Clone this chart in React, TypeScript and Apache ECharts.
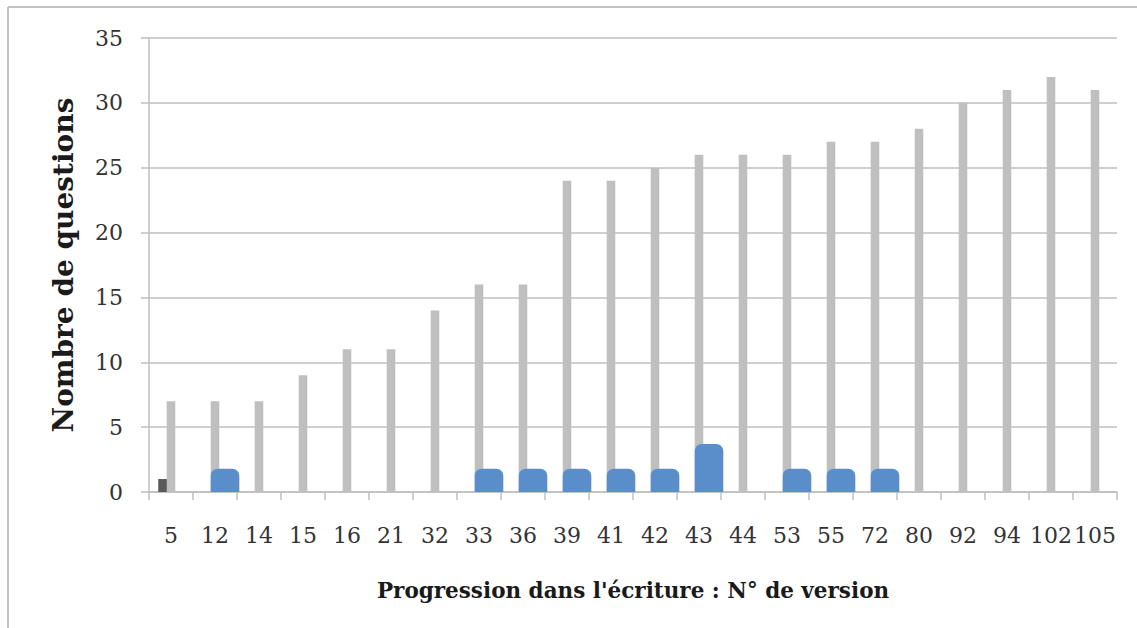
import React, { useEffect, useRef } from "react";
import * as echarts from "echarts";

// Version numbers along the writing progression
const versions = ["5", "12", "14", "15", "16", "21", "32", "33", "36", "39", "41", "42", "43", "44", "53", "55", "72", "80", "92", "94", "102", "105"];
// Number of questions per version
const questionCounts = [7, 7, 7, 9, 11, 11, 14, 16, 16, 24, 24, 25, 26, 26, 26, 27, 27, 28, 30, 31, 32, 31];
// Secondary series (blue rounded bars)
const blueValues: (number | null)[] = [null, 1.8, null, null, null, null, null, 1.8, 1.8, 1.8, 1.8, 1.8, 3.7, null, 1.8, 1.8, 1.8, null, null, null, null, null];
// Small dark series
const darkValues: (number | null)[] = [1, null, null, null, null, null, null, null, null, null, null, null, null, null, null, null, null, null, null, null, null, null];

const yTicks = { min: 0, max: 35, interval: 5 };

const GRAY = "#bfbfbf";
const BLUE = "#5a8ecb";
const DARK = "#5a5a5a";
const SERIF = "'DejaVu Serif', 'Liberation Serif', serif";

const toPoints = (vals: (number | null)[]) =>
  vals.map((v, i) => (v == null ? null : [i, v])).filter((d) => d !== null) as number[][];

// Bar drawn at a horizontal offset inside its category band (fractions of the band width)
const offsetBar = (leftFrac: number, widthFrac: number, color: string, radius: number) =>
  (params: any, api: any) => {
    const idx = api.value(0);
    const base = api.coord([idx, 0]);
    const top = api.coord([idx, api.value(1)]);
    const band = api.size([1, 0])[0];
    const x = base[0] + band * leftFrac;
    const w = band * widthFrac;
    const h = base[1] - top[1];
    return {
      type: "rect",
      shape: { x, y: top[1], width: w, height: h, r: [radius, radius, 0, 0] },
      style: { fill: color },
    };
  };

export default function App() {
  const ref = useRef<HTMLDivElement>(null);

  useEffect(() => {
    if (!ref.current) return;
    const chart = echarts.init(ref.current, null, { renderer: "svg" });
    chart.setOption({
      animation: false,
      backgroundColor: "#ffffff",
      grid: { left: 149, right: 20, top: 38, bottom: 136, containLabel: false },
      xAxis: {
        type: "category",
        data: versions,
        name: "Progression dans l'écriture : N° de version",
        nameLocation: "middle",
        nameGap: 87,
        nameTextStyle: { fontFamily: SERIF, fontWeight: "bold", fontSize: 21.5, color: "#1a1a1a" },
        axisLine: { show: true, lineStyle: { color: GRAY, width: 1.5 } },
        axisTick: { show: true, length: 8, interval: 0, lineStyle: { color: GRAY, width: 1.5 } },
        axisLabel: { interval: 0, margin: 32, fontFamily: SERIF, fontSize: 22, color: "#333333" },
        splitLine: { show: false },
      },
      yAxis: {
        type: "value",
        min: yTicks.min,
        max: yTicks.max,
        interval: yTicks.interval,
        name: "Nombre de questions",
        nameLocation: "middle",
        nameGap: 72,
        nameTextStyle: { fontFamily: SERIF, fontWeight: "bold", fontSize: 28, color: "#1a1a1a" },
        axisLine: { show: true, lineStyle: { color: GRAY, width: 1.5 } },
        axisTick: { show: true, length: 8, lineStyle: { color: GRAY, width: 1.5 } },
        axisLabel: { margin: 26, fontFamily: SERIF, fontSize: 22, color: "#333333" },
        splitLine: { show: true, lineStyle: { color: GRAY, width: 1.5 } },
      },
      series: [
        {
          type: "bar",
          name: "Questions",
          data: questionCounts,
          barWidth: "19.5%",
          itemStyle: { color: GRAY },
          z: 2,
        },
        {
          type: "custom",
          name: "Dark",
          data: toPoints(darkValues),
          renderItem: offsetBar(-0.29, 0.195, DARK, 0),
          z: 3,
        },
        {
          type: "custom",
          name: "Blue",
          data: toPoints(blueValues),
          renderItem: offsetBar(-0.0975, 0.65, BLUE, 7),
          z: 4,
        },
      ],
      graphic: [
        { type: "line", shape: { x1: 8, y1: 7, x2: 1137, y2: 7 }, style: { stroke: "#c2c2c2", lineWidth: 2 } },
        { type: "line", shape: { x1: 8, y1: 7, x2: 8, y2: 628 }, style: { stroke: "#c2c2c2", lineWidth: 2 } },
      ],
    });
    return () => chart.dispose();
  }, []);

  return (
    <div
      ref={ref}
      style={{ position: "fixed", left: 0, top: 0, width: 1137, height: 628, background: "#fff" }}
    />
  );
}
